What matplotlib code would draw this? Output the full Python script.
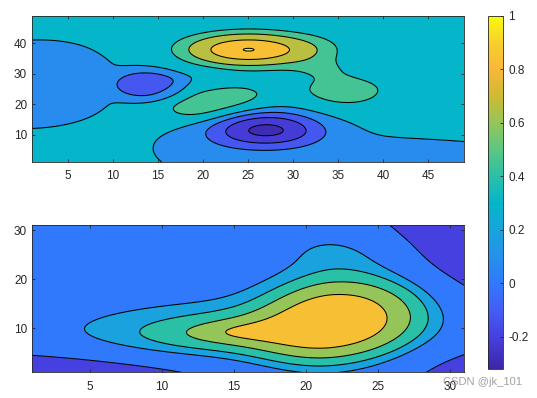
import numpy as np
import matplotlib
matplotlib.use("Agg")
import matplotlib.pyplot as plt
from matplotlib.colors import LinearSegmentedColormap, Normalize
from matplotlib.cm import ScalarMappable

plt.rcParams['font.family'] = ['Liberation Sans', 'DejaVu Sans']
plt.rcParams['contour.negative_linestyle'] = 'solid'

# parula-like colormap, anchors
cbar_vals = [-0.32, -0.2, -0.1, 0.0, 0.1, 0.2, 0.3, 0.4, 0.5, 0.6, 0.7, 0.8, 0.9, 1.0]
cbar_hex = ['#3e26a8', '#4740e0', '#435ef5', '#3079fc', '#2591e9', '#17a5db', '#05b5c9',
            '#2ac0a8', '#5cc783', '#94c55a', '#cdbb33', '#f8b73a', '#f6cf2c', '#f9fa0e']
cbar_ticks = [-0.2, 0, 0.2, 0.4, 0.6, 0.8, 1]
cbar_labels = ['-0.2', '0', '0.2', '0.4', '0.6', '0.8', '1']

# top surface: bumps (centre, widths left/right, down/up, shear, amplitude, shape)
top_cx = [25.0, 32.5, 35.8, 33.5, 18.5, 21.5, 27.5, 27.0, 34.0, 1.0, 14.1, 19.5, 19.0]
top_cy = [37.9, 38.0, 24.3, 31.5, 17.8, 20.6, 27.5, 11.6, -4.0, 26.6, 26.4, 28.8, 5.0]
top_sxl = [5.0, 2.5, 3.6, 2.5, 2.0, 4.0, 0.95, 4.2, 11.0, 9.05, 3.7, 2.2, 5.0]
top_sxr = [5.0, 2.5, 3.6, 2.5, 2.0, 4.2, 0.95, 4.2, 28.0, 9.05, 3.5, 2.2, 5.0]
top_syl = [3.8, 3.5, 4.2, 2.5, 2.0, 3.6, 1.1, 3.8, 12.0, 13.0, 4.68, 1.8, 6.0]
top_syu = [3.8, 3.5, 3.8, 2.5, 2.0, 3.9, 1.1, 4.3, 12.0, 13.0, 4.68, 1.8, 6.0]
top_k = [0, 0, 0, 0, 0, 0.35, 0, 0, 0, 0.12, 0, 0, 0]
top_amp = [0.603, 0.05, 0.21, 0.08, 0.06, 0.25, -0.11, -0.50, -0.13, -0.13, -0.20, -0.05, -0.06]
top_p = [2, 2, 2, 2, 2, 2, 2, 2, 2, 2, 4, 2, 2]
top_levels = [-0.506, -0.341, -0.2, -0.07, 0.119, 0.238, 0.42, 0.596]
top_band_vals = [-0.29, -0.22, -0.12, 0.08, 0.30, 0.45, 0.66, 0.84, 0.97]
top_xticks = [5, 10, 15, 20, 25, 30, 35, 40, 45]
top_yticks = [10, 20, 30, 40]

# bottom surface
bot_cx = [22.0, 16.5, 22.5, -3.0, 37.0, 34.0]
bot_cy = [12.0, 9.3, 26.0, -3.0, 37.0, -3.0]
bot_sxl = [3.2, 3.0, 3.0, 10.6, 6.7, 4.6]
bot_sxr = [3.8, 2.5, 3.5, 10.6, 6.7, 4.6]
bot_syl = [5.3, 1.5, 3.5, 4.75, 13.1, 6.1]
bot_syu = [5.4, 1.5, 3.5, 4.75, 13.1, 6.1]
bot_k = [0.25, 0.05, 0, 0, 0, 0]
bot_amp = [0.70, 0.65, 0.10, -0.5, -0.55, -0.3]
bot_p = [2, 1, 2, 2, 2, 2]
bot_levels = [-0.1, 0.077, 0.16, 0.29, 0.5]
bot_band_vals = [-0.2, 0.0, 0.19, 0.40, 0.60, 0.84]
bot_xticks = [5, 10, 15, 20, 25, 30]
bot_yticks = [10, 20, 30]


def surface(X, Y, cx, cy, sxl, sxr, syl, syu, k, amp, p):
    Z = np.zeros_like(X)
    for i in range(len(cx)):
        dx = X - cx[i]
        dy = Y - cy[i] - k[i] * dx
        sx = np.where(dx < 0, sxl[i], sxr[i])
        sy = np.where(dy < 0, syl[i], syu[i])
        q = (dx / sx) ** 2 + (dy / sy) ** 2
        Z += amp[i] * np.exp(-0.5 * q ** (p[i] / 2.0))
    return Z


pos = [(v - cbar_vals[0]) / (cbar_vals[-1] - cbar_vals[0]) for v in cbar_vals]
parula = LinearSegmentedColormap.from_list('parula', list(zip(pos, cbar_hex)))
norm = Normalize(cbar_vals[0], cbar_vals[-1])

fig = plt.figure(figsize=(5.37, 3.98), dpi=100)
ax1 = fig.add_axes([0.0596, 0.593, 0.8045, 0.367])
ax2 = fig.add_axes([0.0596, 0.0645, 0.8045, 0.369])
cax = fig.add_axes([0.9087, 0.073, 0.0275, 0.887])

Xt, Yt = np.meshgrid(np.linspace(1, 49, 301), np.linspace(1, 49, 301))
Zt = surface(Xt, Yt, top_cx, top_cy, top_sxl, top_sxr, top_syl, top_syu, top_k, top_amp, top_p)
Xb, Yb = np.meshgrid(np.linspace(1, 31, 301), np.linspace(1, 31, 301))
Zb = surface(Xb, Yb, bot_cx, bot_cy, bot_sxl, bot_sxr, bot_syl, bot_syu, bot_k, bot_amp, bot_p)

for ax, X, Y, Z, lev, bands, xt, yt, lim in [
        (ax1, Xt, Yt, Zt, top_levels, top_band_vals, top_xticks, top_yticks, 49),
        (ax2, Xb, Yb, Zb, bot_levels, bot_band_vals, bot_xticks, bot_yticks, 31)]:
    ax.contourf(X, Y, Z, levels=[-9] + lev + [9], colors=[parula(norm(v)) for v in bands])
    ax.contour(X, Y, Z, levels=lev, colors='k', linewidths=0.75)
    ax.set_xlim(1, lim)
    ax.set_ylim(1, lim)
    ax.set_xticks(xt)
    ax.set_yticks(yt)
    ax.tick_params(direction='in', length=2.5, width=0.6, top=True, right=True,
                   labelsize=8.5, colors='#262626', pad=6)
    ax.tick_params(axis='y', pad=3.5)
    for s in ax.spines.values():
        s.set_color('#262626')
        s.set_linewidth(0.6)

sm = ScalarMappable(norm=norm, cmap=parula)
cb = fig.colorbar(sm, cax=cax, ticks=cbar_ticks)
cb.ax.set_yticklabels(cbar_labels)
cb.ax.tick_params(direction='in', length=2.5, width=0.6, labelsize=8.5, colors='#262626', pad=4)
cb.outline.set_edgecolor('#262626')
cb.outline.set_linewidth(0.6)

fig.text(0.825, 0.04, 'CSDN @jk_101', color='#a0a0a0', fontsize=8, va='center')

fig.savefig('out.png', dpi=100)
